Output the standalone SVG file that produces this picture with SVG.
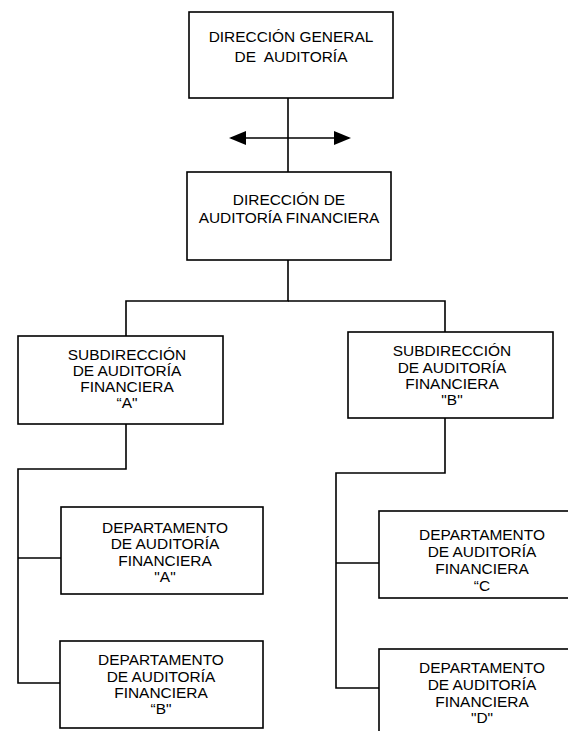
<svg xmlns="http://www.w3.org/2000/svg" width="568" height="731" viewBox="0 0 568 731">
<style>
.box{fill:#fff;stroke:#000;stroke-width:1.6}
.ln{fill:none;stroke:#000;stroke-width:1.6}
text{font-family:"Liberation Sans",Arial,sans-serif;font-size:14.3px;fill:#000;text-anchor:middle;transform-box:fill-box;transform-origin:center;transform:scaleX(1.08)}
</style>
<rect width="568" height="731" fill="#fff"/>
<g id="connectors">
<line class="ln" x1="288" y1="98" x2="288" y2="172"/>
<path d="M231,138 L349,138" stroke="#000" stroke-width="1.6" fill="none"/>
<polygon points="229,138 246,131 246,145" fill="#000"/>
<polygon points="351,138 334,131 334,145" fill="#000"/>
<polyline class="ln" points="288,260 288,301 126,301 126,336"/>
<polyline class="ln" points="288,301 445,301 445,332"/>
<polyline class="ln" points="126,424 126,469 18,469 18,683 60,683"/>
<line class="ln" x1="18" y1="558" x2="61" y2="558"/>
<polyline class="ln" points="445,418 445,473 336,473 336,688 379,688"/>
<line class="ln" x1="336" y1="563" x2="379" y2="563"/>
</g>
<g id="dir-general">
<rect class="box" x="189" y="12" width="204" height="86"/>
<text x="291" y="42">DIRECCIÓN GENERAL</text>
<text x="291" y="62" xml:space="preserve">DE  AUDITORÍA</text>
</g>
<g id="dir-auditoria-financiera">
<rect class="box" x="187" y="172" width="204" height="88"/>
<text x="289" y="205">DIRECCIÓN DE</text>
<text x="289" y="223">AUDITORÍA FINANCIERA</text>
</g>
<g id="sub-a">
<rect class="box" x="18" y="336" width="205" height="88"/>
<text x="127" y="360">SUBDIRECCIÓN</text>
<text x="127" y="376">DE AUDITORÍA</text>
<text x="127" y="392">FINANCIERA</text>
<text x="127" y="408">“A"</text>
</g>
<g id="sub-b">
<rect class="box" x="348" y="332" width="205" height="86"/>
<text x="452" y="356">SUBDIRECCIÓN</text>
<text x="452" y="373">DE AUDITORÍA</text>
<text x="452" y="389">FINANCIERA</text>
<text x="452" y="405">"B"</text>
</g>
<g id="dept-a">
<rect class="box" x="61" y="507" width="202" height="87"/>
<text x="165" y="533">DEPARTAMENTO</text>
<text x="165" y="549">DE AUDITORÍA</text>
<text x="165" y="566">FINANCIERA</text>
<text x="165" y="582">"A"</text>
</g>
<g id="dept-b">
<rect class="box" x="60" y="641" width="203" height="87"/>
<text x="161" y="665">DEPARTAMENTO</text>
<text x="161" y="682">DE AUDITORÍA</text>
<text x="161" y="698">FINANCIERA</text>
<text x="161" y="714">“B"</text>
</g>
<g id="dept-c">
<rect class="box" x="379" y="511" width="210" height="87"/>
<text x="482" y="540">DEPARTAMENTO</text>
<text x="482" y="557">DE AUDITORÍA</text>
<text x="482" y="574">FINANCIERA</text>
<text x="482" y="591">“C</text>
</g>
<g id="dept-d">
<rect class="box" x="379" y="649" width="210" height="90"/>
<text x="482" y="673">DEPARTAMENTO</text>
<text x="482" y="690">DE AUDITORÍA</text>
<text x="482" y="707">FINANCIERA</text>
<text x="482" y="723">"D"</text>
</g>
</svg>
